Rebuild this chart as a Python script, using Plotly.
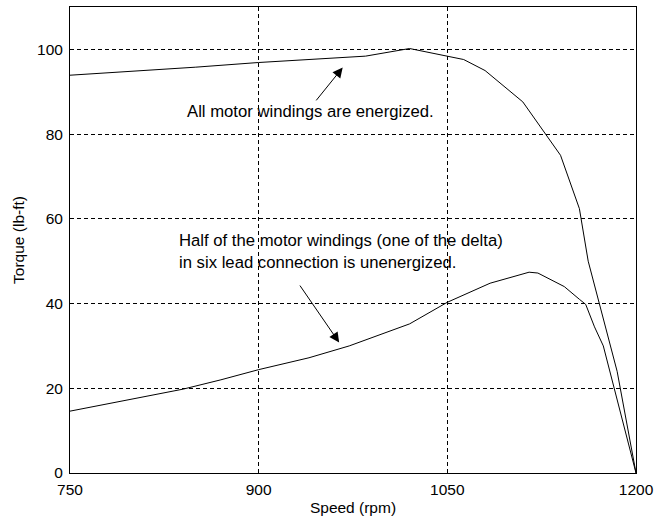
import plotly.graph_objects as go

# Speed-torque curves of the motor (rpm, lb-ft)
speed_full = [750, 800, 850, 900, 950, 985, 1020, 1063, 1080, 1110, 1140, 1155, 1162, 1185, 1200]
torque_full = [93.9, 94.8, 95.8, 96.9, 97.7, 98.4, 100.2, 97.6, 95.0, 87.6, 75.0, 62.4, 50.0, 24.0, 0.0]

speed_half = [750, 800, 840, 870, 900, 940, 972, 1020, 1050, 1084, 1115, 1122, 1143, 1155, 1160, 1167, 1174, 1200]
torque_half = [14.6, 17.5, 19.8, 22.0, 24.4, 27.2, 30.0, 35.2, 40.3, 44.8, 47.4, 47.2, 44.0, 41.0, 39.8, 34.5, 30.0, 0.0]

x_ticks = [750, 900, 1050, 1200]
y_ticks = [0, 20, 40, 60, 80, 100]

label_full = "All motor windings are energized."
label_half = "Half of the motor windings (one of the delta)<br>in six lead connection is unenergized."

FONT = "Liberation Sans, Arial, Helvetica, sans-serif"
TEXT_SIZE = 16.7
TICK_SIZE = 15.5

fig = go.Figure()
fig.add_trace(go.Scatter(x=speed_full, y=torque_full, mode="lines",
                         line=dict(color="black", width=1), showlegend=False))
fig.add_trace(go.Scatter(x=speed_half, y=torque_half, mode="lines",
                         line=dict(color="black", width=1), showlegend=False))

# Callout text
fig.add_annotation(x=941.6, y=85.3, xref="x", yref="y", text=label_full,
                   showarrow=False, font=dict(size=TEXT_SIZE, color="black", family=FONT))
fig.add_annotation(x=835, y=52.3, xref="x", yref="y", text=label_half,
                   showarrow=False, xanchor="left", align="left",
                   font=dict(size=TEXT_SIZE, color="black", family=FONT))

# Callout arrows
fig.add_annotation(x=966.8, y=95.7, ax=944.8, ay=87.6, xref="x", yref="y",
                   axref="x", ayref="y", text="", showarrow=True,
                   arrowhead=2, arrowsize=2, arrowwidth=1, arrowcolor="black")
fig.add_annotation(x=964, y=30.8, ax=932, ay=44.6, xref="x", yref="y",
                   axref="x", ayref="y", text="", showarrow=True,
                   arrowhead=2, arrowsize=2, arrowwidth=1, arrowcolor="black")

axis_common = dict(
    showline=True, linecolor="black", linewidth=1, mirror=True,
    showgrid=True, gridcolor="black", gridwidth=1, griddash="4px,3px",
    zeroline=False, ticks="inside", ticklen=4, tickcolor="black",
    tickfont=dict(size=TICK_SIZE, color="black", family=FONT),
)

fig.update_xaxes(range=[750, 1200], tickvals=x_ticks, ticklabelstandoff=2,
                 title=dict(text="Speed (rpm)", font=dict(size=TICK_SIZE, color="black", family=FONT), standoff=5),
                 **axis_common)
fig.update_yaxes(range=[0, 110], tickvals=y_ticks, ticklabelstandoff=3,
                 title=dict(text="Torque (lb-ft)", font=dict(size=TICK_SIZE, color="black", family=FONT), standoff=8),
                 **axis_common)

fig.update_layout(
    width=662, height=521,
    margin=dict(l=70, r=26, t=7, b=48),
    plot_bgcolor="white", paper_bgcolor="white",
    font=dict(family=FONT, color="black"),
)

fig.write_html("out.html")
